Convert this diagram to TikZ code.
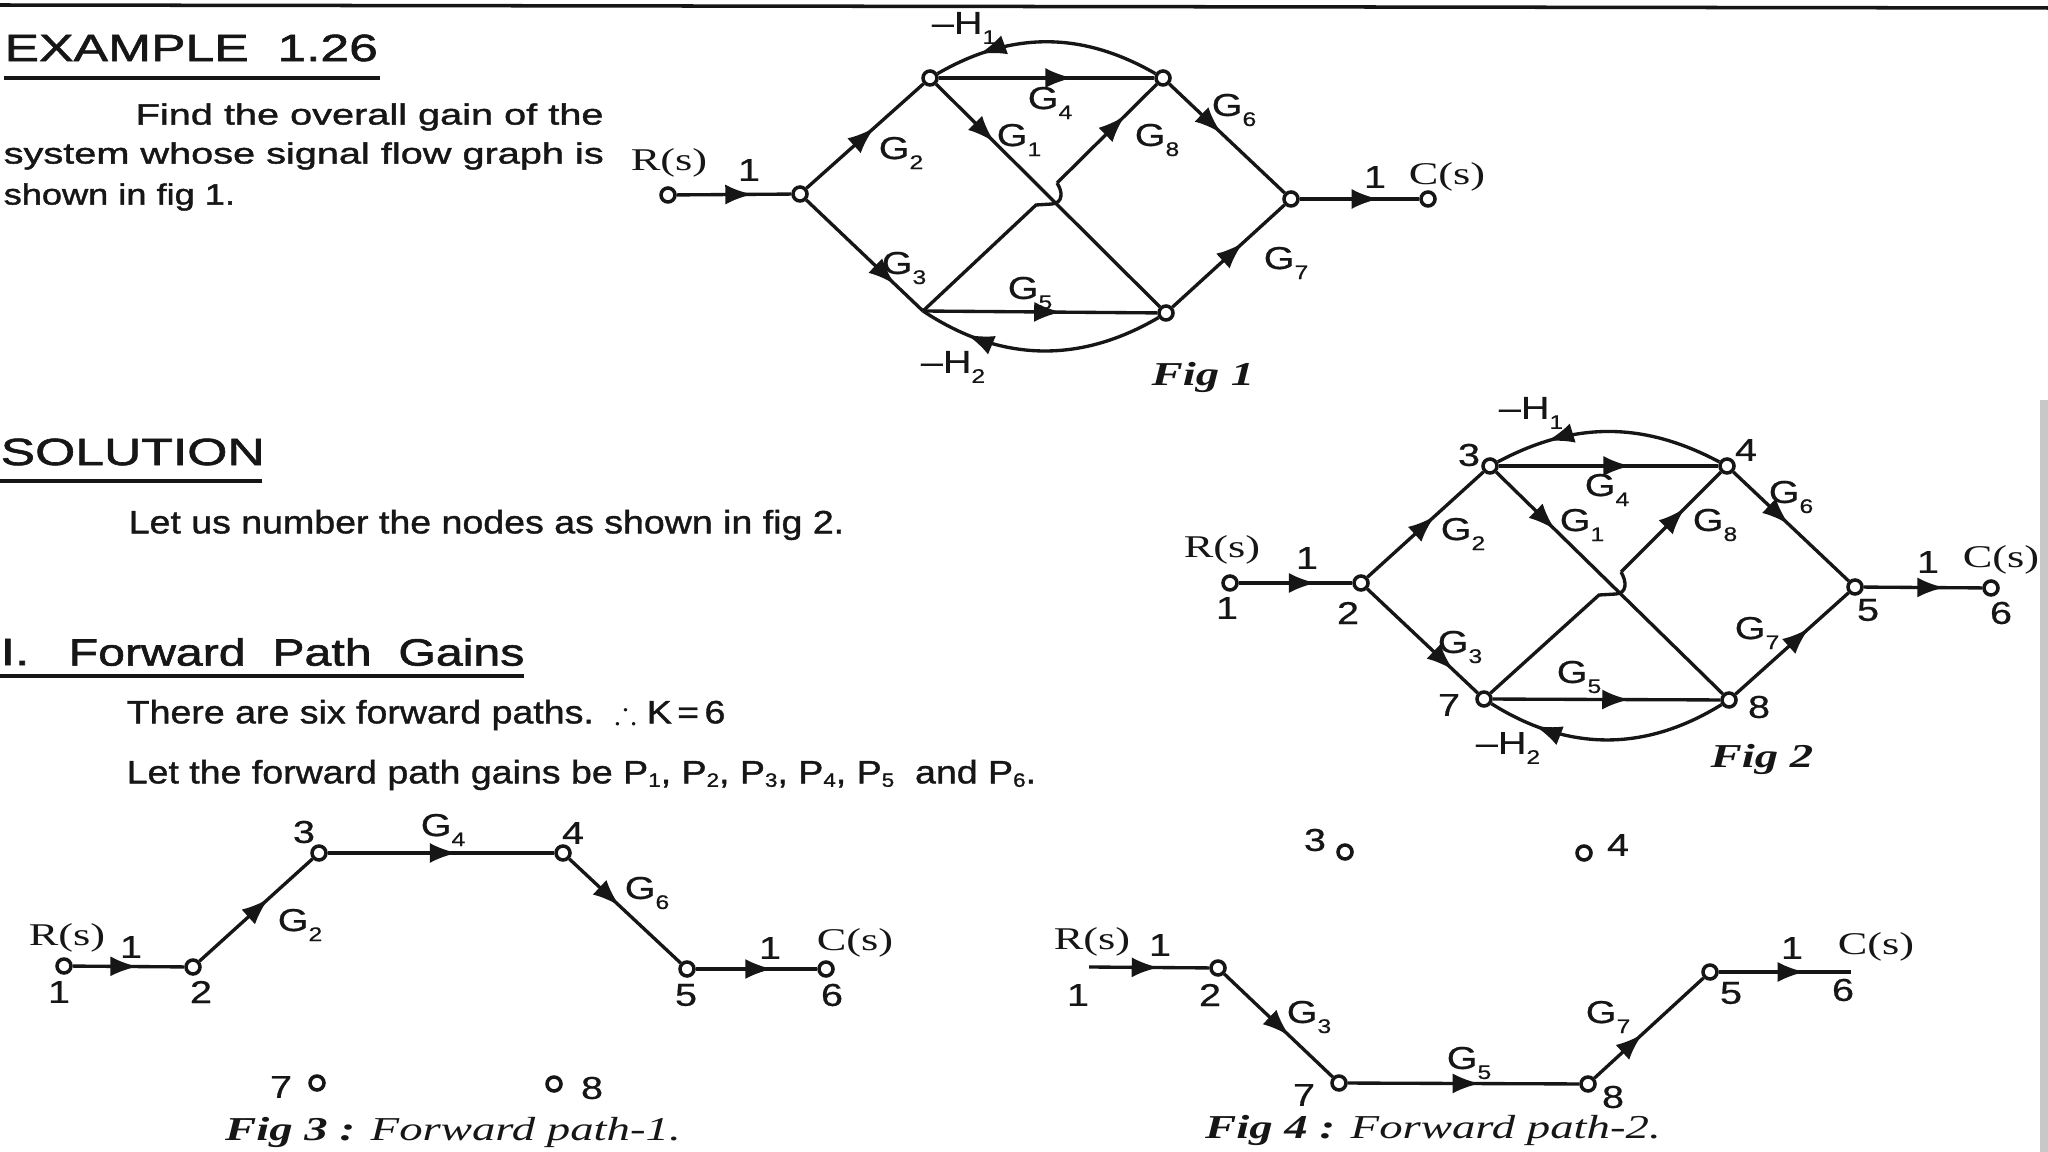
\documentclass[tikz,border=0pt]{standalone}
\usepackage{amsmath,amssymb}
\usepackage{fontspec}
\usepackage{tikz}
\usetikzlibrary{arrows.meta,decorations.markings}
\newfontfamily\headfont[FakeStretch=1.36,FakeBold=1.6]{Liberation Sans}
\newfontfamily\headcond[FakeStretch=1.27,FakeBold=1.6]{Liberation Sans}
\newfontfamily\bodyfont[FakeStretch=1.36,FakeBold=1.5]{Liberation Sans}
\newfontfamily\bodynarrow[FakeStretch=1.24,FakeBold=1.5]{Liberation Sans}
\newfontfamily\condfont[FakeStretch=1.16,FakeBold=1.2]{Liberation Sans}
\newfontfamily\labelfont[FakeStretch=1.25,FakeBold=0.6]{Liberation Sans}
\newfontfamily\widefont[FakeStretch=1.4]{Liberation Serif}
\definecolor{inkBlack}{RGB}{22,22,22}
\definecolor{scanGray}{RGB}{200,200,200}
\newcommand{\gainsub}[2]{#1\raisebox{-0.6ex}{\fontsize{5.6}{6}\selectfont #2}}
\newcommand{\pathsub}[1]{P\raisebox{-0.2ex}{\fontsize{5.5}{6}\selectfont #1}}
\tikzset{
  every node/.style={text=inkBlack, inner sep=0pt},
  sfgnode/.style={circle, draw=inkBlack, fill=white, line width=1pt, minimum size=1.4mm},
  sfgline/.style={draw=inkBlack, line width=0.95pt},
  flow/.style={sfgline, decoration={markings, mark=at position #1 with {\arrow{Latex[length=2.7mm,width=2mm]}}}, postaction={decorate}},
  rulebar/.style={draw=inkBlack, line width=1.1pt},
  headtext/.style={anchor=west, font=\headfont\fontsize{10.8}{12}\selectfont},
  bodytext/.style={anchor=west, font=\bodyfont\fontsize{8.3}{10}\selectfont},
  condtext/.style={anchor=west, font=\condfont\fontsize{9.2}{11}\selectfont},
  gainlabel/.style={font=\labelfont\fontsize{9}{10}\selectfont},
  ioLabel/.style={font=\widefont\fontsize{9}{10}\selectfont},
  figcaption/.style={font=\widefont\fontsize{9.5}{11}\selectfont}
}
\begin{document}
\begin{tikzpicture}[x=0.01cm, y=-0.01cm]
\useasboundingbox[fill=white] (0,0) rectangle (2048,1152);
\fill[scanGray] (2040,400) rectangle (2048,1152);
\coordinate (topL) at (0,5);
\coordinate (topR) at (2048,8);
\draw[inkBlack, line width=1pt] (topL) -- (topR);

\node[headtext] (ex) at (4,48) {EXAMPLE\ \ 1.26};
\draw[rulebar] (ex.west |- 0,78) -- (380,78);
\node[bodytext] (t1) at (135,117) {Find the overall gain of the};
\node[bodytext] (t2) at (3,156) {system whose signal flow graph is};
\node[bodytext, font=\bodynarrow\fontsize{8.3}{10}\selectfont] (t3) at (3,197) {shown in fig 1.};
\node[headtext] (sol) at (0,452) {SOLUTION};
\draw[rulebar] (0,481) -- (262,481);
\node[condtext] (t4) at (128,525) {Let us number the nodes as shown in fig 2.};
\node[headtext] (sec) at (0,652) {I.};
\node[headtext, font=\headcond\fontsize{10.8}{12}\selectfont] (sect) at (68,652) {Forward\ \ Path\ \ Gains};
\draw[rulebar] (0,676) -- (524,676);
\node[condtext] (t5) at (126,715) {There are six forward paths.\ \ $\therefore$ K\,=\,6};
\node[condtext] (t6) at (126,775) {Let the forward path gains be \pathsub{1}, \pathsub{2}, \pathsub{3}, \pathsub{4}, \pathsub{5}\ \ and \pathsub{6}.};

\node[sfgnode] (a1) at (668,195) {};
\node[sfgnode] (a2) at (800,194) {};
\node[sfgnode] (a3) at (930,78) {};
\node[sfgnode] (a4) at (1163,78) {};
\node[sfgnode] (a5) at (1291,199) {};
\node[sfgnode] (a6) at (1428,199) {};
\coordinate (a7) at (923,311);
\node[sfgnode] (a8) at (1166,313) {};
\coordinate (aj) at (1036,205);
\coordinate (ak) at (1052,204);
\coordinate (al) at (1057,183);
\draw[flow=.66] (a1) -- (a2);
\draw[flow=.58] (a2) -- (a3);
\draw[flow=.62] (a3) -- (a4);
\draw[flow=.26] (a3) -- (a8);
\draw[sfgline] (a7) -- (aj) -- (ak) .. controls (1063,203) and (1063,192) .. (al);
\draw[flow=.68] (al) -- (a4);
\draw[flow=.45] (a4) -- (a5);
\draw[flow=.66] (a5) -- (a6);
\draw[flow=.76] (a2) -- (a7);
\draw[flow=.59] (a7) -- (a8);
\draw[flow=.63] (a8) -- (a5);
\draw[flow=.8] (a4) to[bend right=30] (a3);
\draw[flow=.8] (a8) to[bend left=32] (a7);
\node[ioLabel] (aR) at (669,163) {R(s)};
\node[ioLabel] (aC) at (1447,177) {C(s)};
\node[gainlabel] (aU) at (749,170) {1};
\node[gainlabel] (aV) at (1375,177) {1};
\node[gainlabel] (aH1) at (964,28) {–\gainsub{H}{1}};
\node[gainlabel] (aH2) at (953,367) {–\gainsub{H}{2}};
\node[gainlabel] (aG1) at (1019,140) {\gainsub{G}{1}};
\node[gainlabel] (aG2) at (901,153) {\gainsub{G}{2}};
\node[gainlabel] (aG3) at (904,268) {\gainsub{G}{3}};
\node[gainlabel] (aG4) at (1050,103) {\gainsub{G}{4}};
\node[gainlabel] (aG5) at (1030,293) {\gainsub{G}{5}};
\node[gainlabel] (aG6) at (1234,110) {\gainsub{G}{6}};
\node[gainlabel] (aG7) at (1286,263) {\gainsub{G}{7}};
\node[gainlabel] (aG8) at (1157,140) {\gainsub{G}{8}};
\node[figcaption] (aF) at (1203,377) {\bfseries\itshape Fig 1};

\node[sfgnode] (b1) at (1230,583) {};
\node[sfgnode] (b2) at (1361,583) {};
\node[sfgnode] (b3) at (1490,466) {};
\node[sfgnode] (b4) at (1727,466) {};
\node[sfgnode] (b5) at (1855,587) {};
\node[sfgnode] (b6) at (1991,588) {};
\node[sfgnode] (b7) at (1484,699) {};
\node[sfgnode] (b8) at (1729,700) {};
\coordinate (bj) at (1599,595);
\coordinate (bk) at (1616,594);
\coordinate (bl) at (1621,572);
\draw[flow=.68] (b1) -- (b2);
\draw[flow=.58] (b2) -- (b3);
\draw[flow=.6] (b3) -- (b4);
\draw[flow=.26] (b3) -- (b8);
\draw[sfgline] (b7) -- (bj) -- (bk) .. controls (1627,593) and (1627,582) .. (bl);
\draw[flow=.64] (bl) -- (b4);
\draw[flow=.48] (b4) -- (b5);
\draw[flow=.68] (b5) -- (b6);
\draw[flow=.78] (b2) -- (b7);
\draw[flow=.6] (b7) -- (b8);
\draw[flow=.65] (b8) -- (b5);
\draw[flow=.77] (b4) to[bend right=28] (b3);
\draw[flow=.8] (b8) to[bend left=32] (b7);
\node[ioLabel] (bR) at (1222,550) {R(s)};
\node[ioLabel] (bC) at (2001,560) {C(s)};
\node[gainlabel] (bU) at (1307,558) {1};
\node[gainlabel] (bV) at (1928,562) {1};
\node[gainlabel] (bN1) at (1227,608) {1};
\node[gainlabel] (bN2) at (1348,613) {2};
\node[gainlabel] (bN3) at (1469,455) {3};
\node[gainlabel] (bN4) at (1746,450) {4};
\node[gainlabel] (bN5) at (1868,610) {5};
\node[gainlabel] (bN6) at (2001,613) {6};
\node[gainlabel] (bN7) at (1449,705) {7};
\node[gainlabel] (bN8) at (1759,707) {8};
\node[gainlabel] (bH1) at (1531,413) {–\gainsub{H}{1}};
\node[gainlabel] (bH2) at (1508,748) {–\gainsub{H}{2}};
\node[gainlabel] (bG1) at (1582,525) {\gainsub{G}{1}};
\node[gainlabel] (bG2) at (1463,534) {\gainsub{G}{2}};
\node[gainlabel] (bG3) at (1460,647) {\gainsub{G}{3}};
\node[gainlabel] (bG4) at (1607,490) {\gainsub{G}{4}};
\node[gainlabel] (bG5) at (1579,677) {\gainsub{G}{5}};
\node[gainlabel] (bG6) at (1791,497) {\gainsub{G}{6}};
\node[gainlabel] (bG7) at (1757,633) {\gainsub{G}{7}};
\node[gainlabel] (bG8) at (1715,525) {\gainsub{G}{8}};
\node[figcaption] (bF) at (1762,759) {\bfseries\itshape Fig 2};

\node[sfgnode] (c1) at (64,966) {};
\node[sfgnode] (c2) at (193,967) {};
\node[sfgnode] (c3) at (319,853) {};
\node[sfgnode] (c4) at (563,853) {};
\node[sfgnode] (c5) at (687,969) {};
\node[sfgnode] (c6) at (826,969) {};
\node[sfgnode] (c7) at (317,1083) {};
\node[sfgnode] (c8) at (554,1084) {};
\draw[flow=.58] (c1) -- (c2);
\draw[flow=.61] (c2) -- (c3);
\draw[flow=.57] (c3) -- (c4);
\draw[flow=.45] (c4) -- (c5);
\draw[flow=.63] (c5) -- (c6);
\node[ioLabel] (cR) at (67,938) {R(s)};
\node[ioLabel] (cC) at (855,943) {C(s)};
\node[gainlabel] (cU) at (131,947) {1};
\node[gainlabel] (cV) at (770,948) {1};
\node[gainlabel] (cN1) at (59,992) {1};
\node[gainlabel] (cN2) at (201,992) {2};
\node[gainlabel] (cN3) at (304,832) {3};
\node[gainlabel] (cN4) at (573,833) {4};
\node[gainlabel] (cN5) at (686,995) {5};
\node[gainlabel] (cN6) at (832,995) {6};
\node[gainlabel] (cN7) at (281,1087) {7};
\node[gainlabel] (cN8) at (592,1088) {8};
\node[gainlabel] (cG2) at (300,925) {\gainsub{G}{2}};
\node[gainlabel] (cG4) at (443,830) {\gainsub{G}{4}};
\node[gainlabel] (cG6) at (647,893) {\gainsub{G}{6}};
\node[figcaption] (cF) at (453,1132) {\bfseries\itshape Fig 3 : \mdseries Forward path-1.};

\coordinate (d1) at (1089,967);
\node[sfgnode] (d2) at (1218,968) {};
\node[sfgnode] (d3) at (1345,852) {};
\node[sfgnode] (d4) at (1584,853) {};
\node[sfgnode] (d5) at (1710,972) {};
\coordinate (d6) at (1851,972);
\node[sfgnode] (d7) at (1339,1083) {};
\node[sfgnode] (d8) at (1588,1084) {};
\draw[flow=.58] (d1) -- (d2);
\draw[flow=.6] (d2) -- (d7);
\draw[flow=.57] (d7) -- (d8);
\draw[flow=.44] (d8) -- (d5);
\draw[flow=.65] (d5) -- (d6);
\node[ioLabel] (dR) at (1092,942) {R(s)};
\node[ioLabel] (dC) at (1876,947) {C(s)};
\node[gainlabel] (dU) at (1160,945) {1};
\node[gainlabel] (dV) at (1792,948) {1};
\node[gainlabel] (dN1) at (1078,995) {1};
\node[gainlabel] (dN2) at (1210,995) {2};
\node[gainlabel] (dN3) at (1315,840) {3};
\node[gainlabel] (dN4) at (1618,845) {4};
\node[gainlabel] (dN5) at (1731,993) {5};
\node[gainlabel] (dN6) at (1843,990) {6};
\node[gainlabel] (dN7) at (1304,1095) {7};
\node[gainlabel] (dN8) at (1613,1097) {8};
\node[gainlabel] (dG3) at (1309,1017) {\gainsub{G}{3}};
\node[gainlabel] (dG5) at (1469,1063) {\gainsub{G}{5}};
\node[gainlabel] (dG7) at (1608,1017) {\gainsub{G}{7}};
\node[figcaption] (dF) at (1433,1130) {\bfseries\itshape Fig 4 : \mdseries Forward path-2.};
\end{tikzpicture}
\end{document}
